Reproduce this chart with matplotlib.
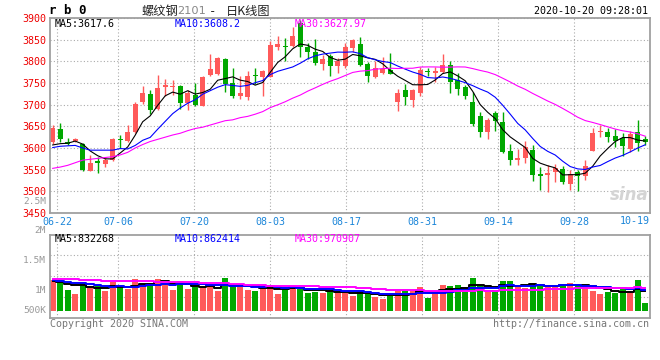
import matplotlib
matplotlib.use('Agg')
import matplotlib.pyplot as plt
import numpy as np

# daily K data, 80 trading days ending 10-20
opens = [3613, 3645, 3615, 3616, 3610, 3548, 3569, 3564, 3573, 3621,
         3617, 3637, 3706, 3725, 3690, 3740, 3741, 3742, 3705, 3722,
         3698, 3768, 3770, 3805, 3749, 3721, 3718, 3768, 3765, 3765,
         3832, 3836, 3835, 3888, 3832, 3822, 3795, 3812, 3790, 3790,
         3831, 3840, 3793, 3764, 3774, 3781, 3707, 3734, 3711, 3727,
         3777, 3774, 3776, 3791, 3756, 3741, 3706, 3674, 3638, 3680,
         3659, 3594, 3573, 3577, 3596, 3541, 3537, 3544, 3552, 3516,
         3545, 3536, 3594, 3637, 3637, 3627, 3623, 3598, 3637, 3621]
highs = [3652, 3658, 3623, 3623, 3612, 3585, 3580, 3580, 3622, 3631,
         3654, 3706, 3743, 3733, 3768, 3760, 3758, 3745, 3734, 3750,
         3766, 3816, 3810, 3807, 3784, 3766, 3778, 3784, 3780, 3848,
         3858, 3855, 3880, 3896, 3842, 3851, 3815, 3816, 3808, 3842,
         3851, 3856, 3798, 3801, 3810, 3820, 3736, 3748, 3736, 3788,
         3784, 3786, 3818, 3801, 3772, 3746, 3729, 3684, 3669, 3685,
         3684, 3610, 3598, 3617, 3606, 3556, 3560, 3562, 3558, 3550,
         3550, 3572, 3646, 3653, 3646, 3644, 3635, 3640, 3665, 3627]
lows = [3610, 3614, 3606, 3614, 3548, 3547, 3542, 3557, 3571, 3600,
        3615, 3635, 3702, 3678, 3688, 3720, 3722, 3690, 3687, 3696,
        3697, 3766, 3768, 3730, 3716, 3712, 3710, 3748, 3720, 3763,
        3826, 3800, 3833, 3810, 3805, 3792, 3779, 3766, 3772, 3784,
        3822, 3789, 3753, 3762, 3771, 3770, 3686, 3700, 3694, 3720,
        3766, 3753, 3772, 3728, 3723, 3714, 3650, 3625, 3620, 3640,
        3589, 3560, 3560, 3566, 3524, 3502, 3499, 3522, 3517, 3503,
        3500, 3526, 3593, 3625, 3613, 3603, 3581, 3590, 3593, 3607]
closes = [3645, 3620, 3609, 3621, 3550, 3566, 3565, 3573, 3620, 3618,
          3636, 3701, 3728, 3688, 3739, 3746, 3744, 3704, 3728, 3700,
          3764, 3782, 3808, 3747, 3720, 3726, 3766, 3766, 3778, 3837,
          3840, 3832, 3858, 3833, 3822, 3795, 3806, 3789, 3801, 3834,
          3849, 3791, 3765, 3784, 3782, 3771, 3726, 3717, 3734, 3781,
          3775, 3778, 3791, 3753, 3735, 3719, 3656, 3638, 3664, 3663,
          3590, 3573, 3577, 3603, 3537, 3535, 3543, 3553, 3521, 3540,
          3536, 3559, 3634, 3639, 3626, 3617, 3605, 3633, 3611, 3614]
volumes = [1289000, 1289000, 869000, 701000, 1177000, 939000, 1065000, 827000, 1205000, 967000,
           925000, 1331000, 1177000, 1177000, 1331000, 1149000, 869000, 1247000, 925000, 1009000,
           981000, 1121000, 827000, 1373000, 1065000, 981000, 869000, 827000, 1121000, 1079000,
           701000, 897000, 1037000, 981000, 743000, 799000, 743000, 827000, 799000, 729000,
           616000, 827000, 827000, 574000, 490000, 616000, 827000, 827000, 827000, 995000,
           532000, 827000, 1079000, 1037000, 1079000, 785000, 1373000, 1037000, 869000, 869000,
           1247000, 1247000, 995000, 953000, 1163000, 1037000, 1079000, 995000, 1037000, 1163000,
           1079000, 1079000, 827000, 701000, 799000, 743000, 953000, 827000, 1289000, 322000]

# moving-average values at the start of the window (history not shown)
ma5_head = [3607, 3610, 3611, 3616]
ma10_head = [3601, 3604, 3605, 3606, 3600, 3595, 3595, 3595, 3595]
ma30_head = [3553, 3556, 3560, 3566, 3572, 3574, 3576, 3578, 3580, 3584,
             3590, 3600, 3608, 3615, 3620, 3625, 3630, 3634, 3640, 3645,
             3648, 3653, 3658, 3663, 3665, 3670, 3673, 3678, 3684]
vma5_head = [1233000, 1191000, 1121000, 1079000]
vma10_head = [1275000, 1261000, 1219000, 1177000, 1149000, 1107000, 1065000, 1023000, 1009000]
vma30_head = [1345000, 1345000, 1331000, 1317000, 1289000, 1275000, 1275000, 1261000, 1247000, 1247000,
              1233000, 1233000, 1233000, 1233000, 1219000, 1219000, 1205000, 1205000, 1191000, 1191000,
              1177000, 1163000, 1149000, 1149000, 1121000, 1107000, 1093000, 1079000, 1065000]

tick_labels = ['06-22', '07-06', '07-20', '08-03', '08-17', '08-31', '09-14', '09-28']
tick_k = [0, 8, 18, 28, 38, 48, 58, 68]
price_ticks = [3450, 3500, 3550, 3600, 3650, 3700, 3750, 3800, 3850, 3900]


def ma(vals, n, head):
    v = np.asarray(vals, float)
    return np.concatenate([head, np.convolve(v, np.ones(n) / n, mode='valid')])


RED = '#ff5a5a'
GREEN = '#00a800'
GRID = '#aaaaaa'
MONO = 'DejaVu Sans Mono'
FS = 7.2

n = len(closes)
x = np.arange(n)
o = np.array(opens); c = np.array(closes)
cols = [RED if cc >= oo else GREEN for oo, cc in zip(o, c)]

fig = plt.figure(figsize=(6.6, 3.6), dpi=100)
W, H = 660.0, 360.0


def ftext(px, py, s, **kw):
    kw.setdefault('va', 'center')
    fig.text(px / W, 1 - py / H, s, **kw)


ax1 = fig.add_axes([50 / W, 1 - 213 / H, 600 / W, 195 / H])
ax2 = fig.add_axes([50 / W, 1 - 317.7 / H, 600 / W, 83 / H])
xl = (-0.36, 79.64)
tick_x = 0.613 + 1.0133 * np.array(tick_k)

# price panel
ax1.vlines(x, lows, highs, colors=cols, lw=1.0, zorder=2)
body = c - o
body = np.where(np.abs(body) < 2, np.sign(body + 0.1) * 2, body)
ax1.bar(x, body, bottom=o, width=0.7, color=cols, zorder=2)
ax1.plot(x, ma(closes, 5, ma5_head), color='black', lw=0.8, zorder=3)
ax1.plot(x, ma(closes, 10, ma10_head), color='#0000ff', lw=0.8, zorder=3)
ax1.plot(x, ma(closes, 30, ma30_head), color='#ff00ff', lw=0.8, zorder=3)
ax1.set_xlim(*xl)
ax1.set_ylim(3450, 3900)
ax1.set_yticks(price_ticks)
ax1.set_yticklabels([str(p) for p in price_ticks], family=MONO, fontsize=FS, color='#ee0000')
ax1.set_xticks(tick_x)
ax1.set_xticklabels(tick_labels, family=MONO, fontsize=FS, color='#1c86d9')
ax1.tick_params(length=0, pad=3)
ax1.text(1.0, -0.043, '10-19', transform=ax1.transAxes, ha='right', va='center',
         family=MONO, fontsize=FS, color='#1c86d9')
ax1.text(0.965, 0.09, 'sina', transform=ax1.transAxes, ha='center', va='center',
         fontsize=12, fontweight='bold', style='italic', color='#d4d4d4', zorder=1)

# volume panel
ax2.bar(x, volumes, width=0.75, color=cols, zorder=2)
ax2.plot(x, ma(volumes, 5, vma5_head), color='black', lw=1.4, drawstyle='steps-mid', zorder=3)
ax2.plot(x, ma(volumes, 10, vma10_head), color='#0000ff', lw=1.4, drawstyle='steps-mid', zorder=3)
ax2.plot(x, ma(volumes, 30, vma30_head), color='#ff00ff', lw=1.4, drawstyle='steps-mid', zorder=3)
ax2.set_xlim(*xl)
vlo, vhi = -294000, 3195000
ax2.set_ylim(vlo, vhi)
ax2.set_yticks(np.linspace(vlo, vhi, 5)[1:4])
ax2.set_xticks(tick_x)
ax2.tick_params(length=0, labelleft=False, labelbottom=False)

for ax in (ax1, ax2):
    ax.grid(True, color=GRID, linestyle=(0, (1, 2)), lw=0.8, zorder=0)
    ax.set_axisbelow(True)
    for sp in ax.spines.values():
        sp.set_color('#a0a0a0')
        sp.set_linewidth(1.3)

# header texts
ftext(49, 11, 'r b 0', family=MONO, fontsize=9, fontweight='bold', color='black')
cjk = ['Noto Sans CJK SC', 'DejaVu Sans']
ftext(142, 11.5, '螺纹钢', family=cjk, fontsize=8.8, color='#222222')
ftext(177, 11.5, '2101', family='DejaVu Sans', fontsize=8.2, color='#888888')
ftext(209, 11.5, '-', family=MONO, fontsize=8.8, color='#222222')
ftext(226, 11.5, '日K线图', family=cjk, fontsize=8.8, color='#222222')
ftext(648, 11, '2020-10-20 09:28:01', ha='right', family=MONO, fontsize=FS, color='black')

ftext(55, 24, 'MA5:3617.6', family=MONO, fontsize=FS, color='black')
ftext(175, 24, 'MA10:3608.2', family=MONO, fontsize=FS, color='#0000ff')
ftext(295, 24, 'MA30:3627.97', family=MONO, fontsize=FS, color='#ff00ff')

ftext(55, 238.5, 'MA5:832268', family=MONO, fontsize=FS, color='black')
ftext(175, 238.5, 'MA10:862414', family=MONO, fontsize=FS, color='#0000ff')
ftext(295, 238.5, 'MA30:970907', family=MONO, fontsize=FS, color='#ff00ff')

for lab, yy in [('2.5M', 201.5), ('2M', 230.5), ('1.5M', 260.5), ('1M', 290.5), ('500K', 310.5)]:
    ftext(46, yy, lab, ha='right', family=MONO, fontsize=6.8, color='#999999')

ftext(50, 324, 'Copyright 2020 SINA.COM', family=MONO, fontsize=FS, color='#777777')
ftext(649, 324, 'http://finance.sina.com.cn', ha='right', family=MONO, fontsize=FS, color='#777777')

fig.savefig('out.png', dpi=100, facecolor='white')
